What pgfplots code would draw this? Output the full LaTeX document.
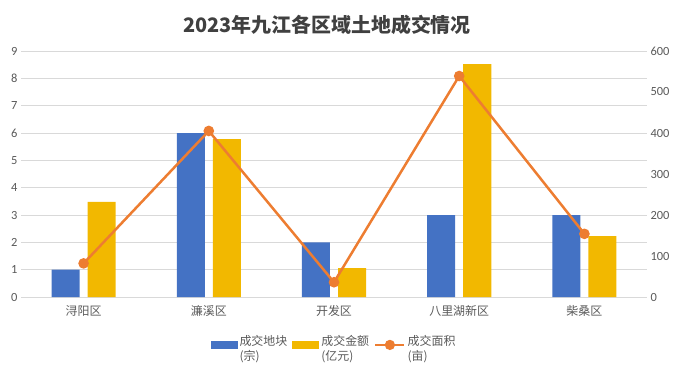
\documentclass[border=0pt]{standalone}
\usepackage{pgfplots}
\pgfplotsset{compat=1.18}
\usepackage{fontspec}
\setmainfont{Noto Sans CJK SC}
\newfontfamily\numfont{Carlito}
\definecolor{cblue}{HTML}{4472C4}
\definecolor{cyellow}{HTML}{F2B800}
\definecolor{corange}{HTML}{ED7D31}
\definecolor{cgrid}{HTML}{D9D9D9}
\definecolor{ctext}{HTML}{595959}
\begin{document}
\begin{tikzpicture}[x=1bp,y=1bp]
\useasboundingbox (0,0) rectangle (682,370);
\node[font=\fontsize{20}{23}\selectfont\bfseries, text=black!75] at (327,345) {2023年九江各区域土地成交情况};
\begin{axis}[
  at={(21bp,73bp)}, anchor=south west, scale only axis,
  width=626bp, height=246bp,
  xmin=-0.5, xmax=4.5, ymin=0, ymax=9,
  ytick={0,1,...,9}, xtick={0,1,2,3,4},
  xticklabels={浔阳区,濂溪区,开发区,八里湖新区,柴桑区},
  ymajorgrids, grid style={cgrid, line width=0.8bp},
  axis line style={draw=none}, tick style={draw=none},
  /pgf/number format/assume math mode=true,
  yticklabel style={font=\numfont\fontsize{12.5}{14}\selectfont, text=ctext},
  xticklabel style={font=\fontsize{12}{14}\selectfont, text=ctext, yshift=-5bp},
  legend style={at={(0.5,-0.14)}, anchor=north, draw=none, fill=none,
    legend columns=3, cells={align=left, anchor=west},
    font=\fontsize{12}{15}\selectfont, text=ctext,
    /tikz/every even column/.append style={column sep=3bp}},
  legend cell align=left,
]
\addplot[ybar, bar width=0.224, bar shift=-0.144, fill=cblue, draw=none,
  legend image code/.code={\fill[cblue] (0bp,0bp) rectangle (27bp,8bp);}]
  coordinates {(0,1) (1,6) (2,2) (3,3) (4,3)};
\addlegendentry{成交地块\\(宗)}
\addplot[ybar, bar width=0.224, bar shift=0.144, fill=cyellow, draw=none,
  legend image code/.code={\fill[cyellow] (0bp,0bp) rectangle (27bp,8bp);}]
  coordinates {(0,3.48) (1,5.78) (2,1.06) (3,8.52) (4,2.23)};
\addlegendentry{成交金额\\(亿元)}
\addlegendimage{corange, line width=2.5bp, mark=*, mark size=3.5bp,
  legend image code/.code={\draw[corange, line width=2.5bp] (0bp,4bp) -- (29bp,4bp); \fill[corange] (14.5bp,4bp) circle (3.8bp);}}
\addlegendentry{成交面积\\(亩)}
\end{axis}
\begin{axis}[
  at={(21bp,73bp)}, anchor=south west, scale only axis,
  width=626bp, height=246bp,
  xmin=-0.5, xmax=4.5, ymin=0, ymax=600,
  axis y line*=right, axis x line=none,
  ytick={0,100,...,600},
  axis line style={draw=none}, tick style={draw=none},
  /pgf/number format/assume math mode=true,
  yticklabel style={font=\numfont\fontsize{12.5}{14}\selectfont, text=ctext},
]
\addplot[corange, line width=2.5bp, mark=*, mark size=4bp]
  coordinates {(0,82) (1,405) (2,36) (3,539) (4,154)};
\end{axis}
\end{tikzpicture}
\end{document}
